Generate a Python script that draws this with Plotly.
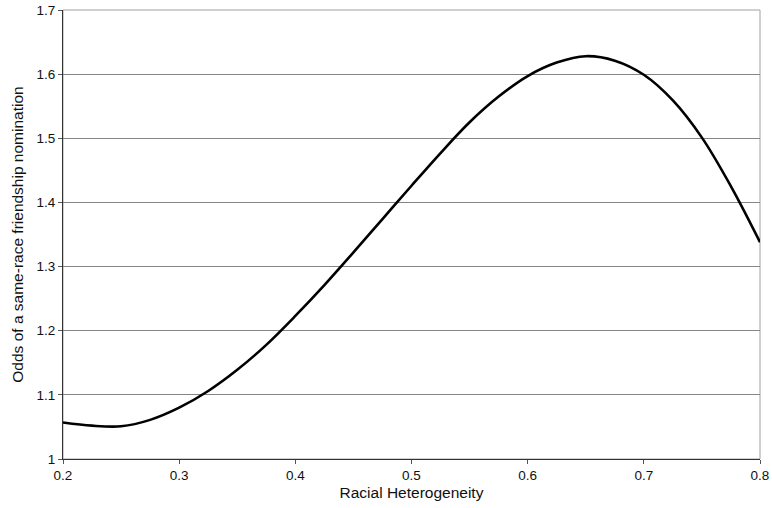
import plotly.graph_objects as go

heterogeneity = [0.200, 0.225, 0.250, 0.275, 0.300, 0.325, 0.350, 0.375, 0.400, 0.425,
                 0.450, 0.475, 0.500, 0.525, 0.550, 0.575, 0.600, 0.625, 0.650, 0.675,
                 0.700, 0.725, 0.750, 0.775, 0.800]
odds = [1.057, 1.052, 1.051, 1.061, 1.080, 1.106, 1.139, 1.178, 1.223, 1.271,
        1.322, 1.374, 1.426, 1.477, 1.525, 1.565, 1.597, 1.618, 1.628, 1.621,
        1.599, 1.559, 1.501, 1.425, 1.338]

x_ticks = [0.2, 0.3, 0.4, 0.5, 0.6, 0.7, 0.8]
x_tick_labels = ["0.2", "0.3", "0.4", "0.5", "0.6", "0.7", "0.8"]
y_ticks = [1.0, 1.1, 1.2, 1.3, 1.4, 1.5, 1.6, 1.7]
y_tick_labels = ["1", "1.1", "1.2", "1.3", "1.4", "1.5", "1.6", "1.7"]

fig = go.Figure()
fig.add_trace(go.Scatter(
    x=heterogeneity, y=odds, mode="lines",
    line=dict(color="black", width=2.6, shape="spline", smoothing=1.0),
    showlegend=False, hoverinfo="skip",
))

font_family = "Liberation Sans, Arial, sans-serif"
fig.update_layout(
    width=772, height=508,
    margin=dict(l=63, r=12, t=10, b=49),
    paper_bgcolor="white", plot_bgcolor="white",
    font=dict(family=font_family, color="#111111", size=13.5),
    shapes=[dict(type="rect", xref="paper", yref="paper", x0=0, y0=0, x1=1, y1=1,
                 line=dict(color="#a0a0a0", width=1), layer="below")],
    xaxis=dict(
        range=[0.2, 0.8], tickvals=x_ticks, ticktext=x_tick_labels,
        showgrid=False, zeroline=False, automargin=False,
        showline=True, linecolor="#333333", linewidth=1,
        ticks="outside", ticklen=4, tickcolor="#555555",
        tickfont=dict(size=13.5), ticklabeloverflow="allow",
        title=dict(text="Racial Heterogeneity", font=dict(size=15.5), standoff=4),
    ),
    yaxis=dict(
        range=[1.0, 1.7], tickvals=y_ticks, ticktext=y_tick_labels,
        showgrid=True, gridcolor="#858585", gridwidth=1,
        zeroline=False, automargin=False,
        showline=True, linecolor="#333333", linewidth=1,
        ticks="outside", ticklen=4, tickcolor="#555555",
        tickfont=dict(size=13.5), ticklabeloverflow="allow",
        title=dict(text="Odds of a same-race friendship nomination", font=dict(size=15.5), standoff=9),
    ),
)

# remove the browser's default 8px page margin so the 772x508 figure fills the window
fig.write_html(
    "out.html",
    config={"displayModeBar": False, "staticPlot": True},
    post_script="document.body.style.margin='0px';document.body.style.overflow='hidden';",
)
